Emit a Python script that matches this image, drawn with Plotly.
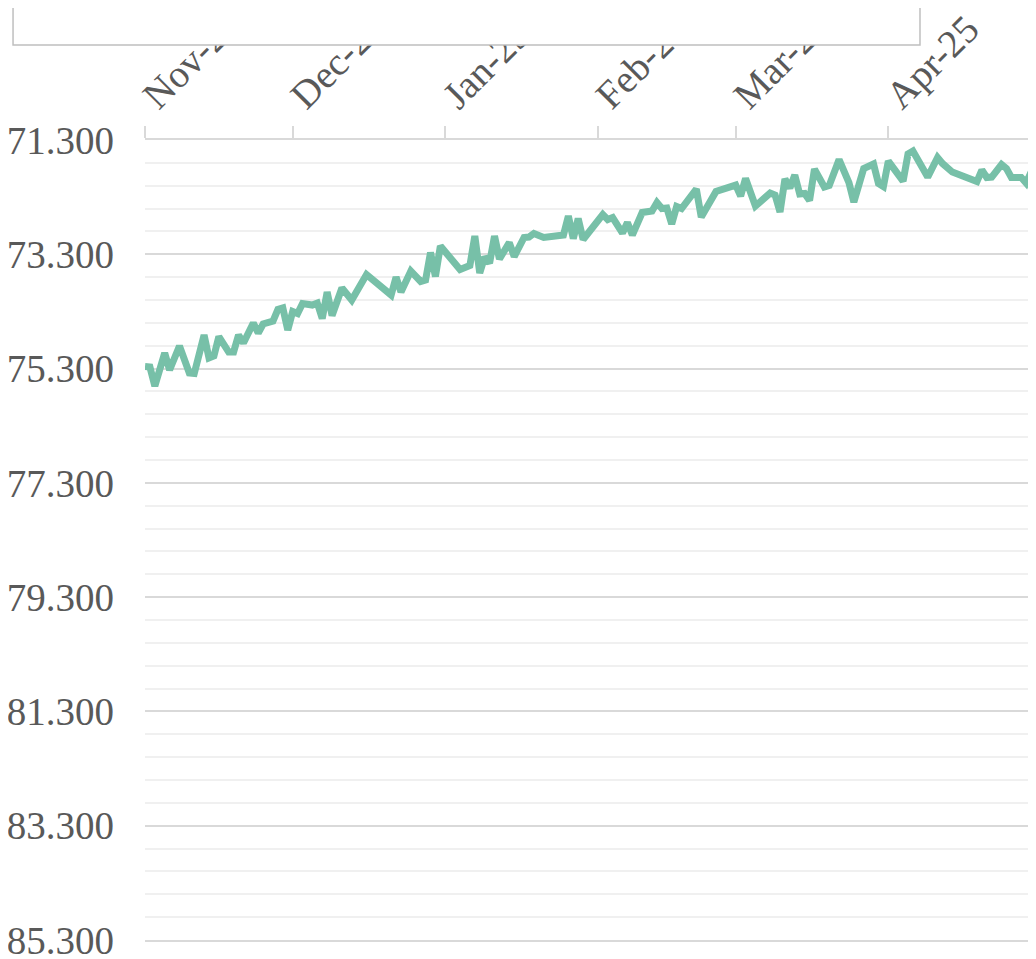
import plotly.graph_objects as go

dates = [
    "2024-11-01", "2024-11-02", "2024-11-03", "2024-11-05", "2024-11-06", "2024-11-08",
    "2024-11-10", "2024-11-11", "2024-11-13", "2024-11-14", "2024-11-15", "2024-11-16",
    "2024-11-18", "2024-11-19", "2024-11-20", "2024-11-21", "2024-11-23", "2024-11-24",
    "2024-11-25", "2024-11-27", "2024-11-28", "2024-11-29", "2024-11-30", "2024-12-01",
    "2024-12-02", "2024-12-03", "2024-12-05", "2024-12-06", "2024-12-07", "2024-12-08",
    "2024-12-09", "2024-12-11", "2024-12-13", "2024-12-16", "2024-12-21", "2024-12-22",
    "2024-12-23", "2024-12-25", "2024-12-27", "2024-12-28", "2024-12-29", "2024-12-30",
    "2024-12-31", "2025-01-04", "2025-01-06", "2025-01-07", "2025-01-08", "2025-01-09",
    "2025-01-10", "2025-01-11", "2025-01-12", "2025-01-14", "2025-01-15", "2025-01-17",
    "2025-01-18", "2025-01-19", "2025-01-21", "2025-01-25", "2025-01-26", "2025-01-27",
    "2025-01-28", "2025-01-29", "2025-02-02", "2025-02-03", "2025-02-04", "2025-02-06",
    "2025-02-07", "2025-02-08", "2025-02-10", "2025-02-12", "2025-02-13", "2025-02-14",
    "2025-02-15", "2025-02-16", "2025-02-17", "2025-02-18", "2025-02-21", "2025-02-22",
    "2025-02-25", "2025-03-01", "2025-03-02", "2025-03-03", "2025-03-05", "2025-03-08",
    "2025-03-09", "2025-03-10", "2025-03-11", "2025-03-12", "2025-03-13", "2025-03-14",
    "2025-03-15", "2025-03-16", "2025-03-17", "2025-03-19", "2025-03-20", "2025-03-22",
    "2025-03-24", "2025-03-25", "2025-03-27", "2025-03-29", "2025-03-30", "2025-03-31",
    "2025-04-01", "2025-04-04", "2025-04-05", "2025-04-06", "2025-04-09", "2025-04-11",
    "2025-04-12", "2025-04-14", "2025-04-19", "2025-04-20", "2025-04-21", "2025-04-22",
    "2025-04-24", "2025-04-25", "2025-04-26", "2025-04-28", "2025-04-29", "2025-05-01",
]

values = [
    75.264, 75.273, 75.605, 75.028, 75.325, 74.905,
    75.378, 75.386, 74.713, 75.115, 75.080, 74.739,
    75.010, 75.010, 74.713, 74.853, 74.503, 74.678,
    74.520, 74.468, 74.266, 74.240, 74.625, 74.301,
    74.336, 74.161, 74.188, 74.153, 74.424, 73.960,
    74.371, 73.890, 74.100, 73.654, 74.013, 73.698,
    73.960, 73.593, 73.776, 73.750, 73.269, 73.689,
    73.155, 73.566, 73.496, 72.980, 73.628, 73.348,
    73.453, 72.980, 73.383, 73.094, 73.339, 73.006,
    72.998, 72.936, 73.006, 72.963, 72.630, 73.024,
    72.674, 73.041, 72.604, 72.691, 72.656, 72.928,
    72.744, 72.963, 72.569, 72.543, 72.394, 72.499,
    72.490, 72.770, 72.464, 72.499, 72.158, 72.648,
    72.201, 72.088, 72.280, 71.974, 72.455, 72.228,
    72.263, 72.560, 71.983, 72.140, 71.913, 72.245,
    72.236, 72.359, 71.808, 72.123, 72.096, 71.641,
    72.044, 72.385, 71.799, 71.720, 72.061, 72.114,
    71.668, 72.018, 71.545, 71.493, 71.948, 71.606,
    71.711, 71.860, 72.026, 71.825, 71.956, 71.948,
    71.729, 71.799, 71.956, 71.956, 72.053, 71.676,
]

series_name = "Series"
x_range = ["2024-11-01", "2025-05-01"]
y_range = [85.3005, 71.2995]

FONT = "Liberation Serif, Times New Roman, serif"
TEXT = "#595959"

fig = go.Figure()
fig.add_trace(go.Scatter(
    x=dates, y=values, mode="lines", name=series_name,
    line=dict(color="#77c0a8", width=7), showlegend=False,
))

fig.update_layout(
    width=1028, height=951,
    margin=dict(l=137, r=0, t=132, b=19),
    paper_bgcolor="white", plot_bgcolor="white",
    font=dict(family=FONT, size=39, color=TEXT),
    xaxis=dict(
        type="date", range=x_range, side="top",
        tick0="2024-11-01", dtick="M1", tickformat="%b-%y",
        tickangle=-45, ticks="outside", ticklen=12, tickwidth=1.5,
        tickcolor="#d9d9d9", showgrid=False, zeroline=False,
        showline=True, mirror=True, linecolor="#d9d9d9", linewidth=1.5,
        automargin=False, ticklabelstandoff=-6,
        tickfont=dict(family=FONT, size=39, color=TEXT),
    ),
    yaxis=dict(
        range=y_range, tick0=71.3, dtick=2, tickformat=".3f",
        showgrid=True, gridcolor="#d9d9d9", gridwidth=1.5,
        zeroline=False, showline=False, ticks="",
        automargin=False, ticklabelstandoff=30, ticklabeloverflow="allow",
        tickfont=dict(family=FONT, size=39, color=TEXT),
        minor=dict(dtick=0.4, tick0=71.3, showgrid=True,
                   gridcolor="#f0f0f0", gridwidth=1.5),
    ),
    shapes=[dict(
        type="rect", xref="paper", yref="paper",
        x0=-0.1481, x1=0.8698, y0=1.11875, y1=1.25,
        line=dict(color="#bfbfbf", width=1.5), fillcolor="white",
        layer="above",
    )],
)

fig.write_html("out.html")
